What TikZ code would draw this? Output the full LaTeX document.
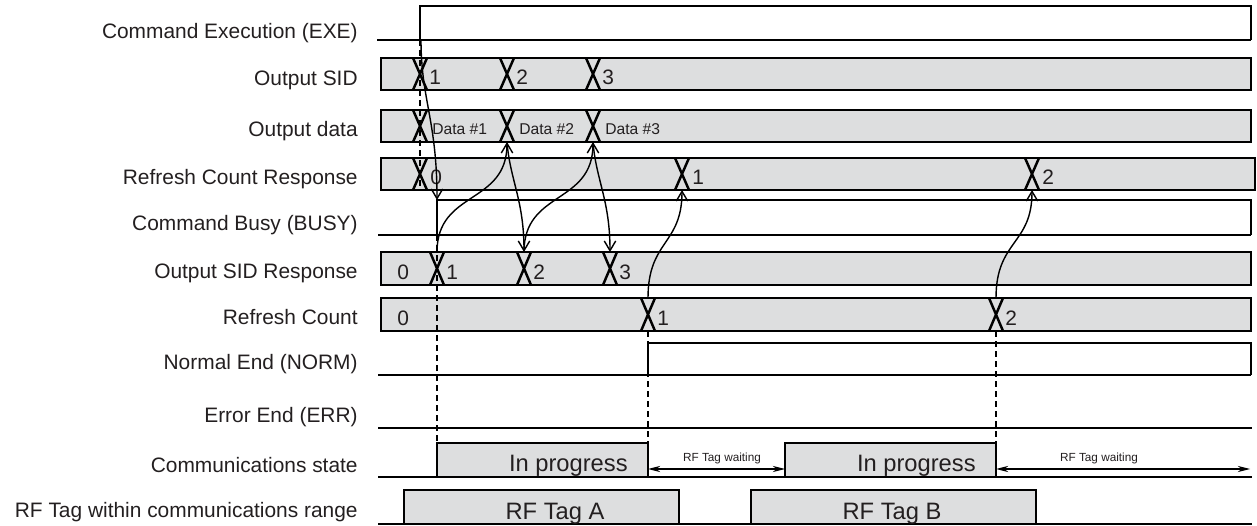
\documentclass[tikz,border=0pt]{standalone}
\usepackage{fontspec}
\setmainfont{Liberation Sans}
\usetikzlibrary{arrows.meta,positioning,calc,backgrounds}
\definecolor{cband}{RGB}{221,222,223}
\definecolor{cink}{RGB}{35,31,32}

\begin{document}
\begin{tikzpicture}[
  x=0.02cm,y=-0.02cm,
  font=\fontsize{11.9}{14}\selectfont,
  lab/.style={anchor=base east,inner sep=0pt,text=cink},
  val/.style={anchor=base west,inner sep=0pt,text=cink},
  dval/.style={val,font=\fontsize{8.9}{10}\selectfont},
  boxtxt/.style={inner sep=0pt,text=cink,font=\fontsize{13.5}{16}\selectfont},
  waittxt/.style={anchor=base,inner sep=0pt,text=cink,font=\fontsize{6.7}{8}\selectfont},
  lowline/.style={line width=1.6pt},
  rise/.style={line width=1.2pt},
  band/.style={fill=cband,draw=black,line width=0.9pt},
  xing/.style={line width=1.4pt},
  guide/.style={line width=1.1pt,dash pattern=on 3.4pt off 2.3pt},
  link/.style={line width=0.8pt,-{Straight Barb[length=5.5pt,width=6.5pt]}},
  gap/.style={line width=0.6pt,{Stealth[length=7pt,width=3.5pt]}-{Stealth[length=7pt,width=3.5pt]}}
]
\useasboundingbox (0,0) rectangle (1257,526);

% ---- signal names ----
\foreach \y/\t [count=\i] in {39/Command Execution (EXE),86/Output SID,137/Output data,
    185/Refresh Count Response,231/Command Busy (BUSY),279/Output SID Response,
    325/Refresh Count,370/Normal End (NORM),423/Error End (ERR),
    473/Communications state,517/RF Tag within communications range}
  {\node[lab] (lbl-\i) at (358,\y) {\t};}

% ---- value bands ----
\foreach \t/\b/\r in {58/90/1251,110/142/1251,158/190/1255,252/285/1251,298/331/1251}
  {\draw[band] (381,\t) rectangle (\r,\b);
   \draw[lowline] (381,\b) -- (\r,\b);}

% Output SID
\foreach \x/\v [count=\i] in {420/1,507/2,593/3} {
  \draw[xing] (\x-7,58) -- (\x+7,90) (\x-7,90) -- (\x+7,58);
  \node[val] (sid-\i) at (\x+9,85) {\v};}
% Output data
\foreach \x/\v [count=\i] in {420/1,507/2,593/3} {
  \draw[xing] (\x-7,110) -- (\x+7,142) (\x-7,142) -- (\x+7,110);
  \coordinate (dat-\i) at (\x,142);
  \node[dval] (dtx-\i) at (\x+12,135) {Data \#\v};}
% Refresh Count Response
\foreach \x/\v [count=\i] in {420/0,682/1,1032/2} {
  \draw[xing] (\x-7,158) -- (\x+7,190) (\x-7,190) -- (\x+7,158);
  \coordinate (rcr-\i) at (\x,190);
  \node[val] (rcv-\i) at (\x+10,185) {\v};}
% Output SID Response
\node[val] (srv-0) at (397,280) {0};
\foreach \x/\v [count=\i] in {437/1,524/2,610/3} {
  \draw[xing] (\x-7,252) -- (\x+7,285) (\x-7,285) -- (\x+7,252);
  \coordinate (srp-\i) at (\x,252);
  \node[val] (srv-\i) at (\x+9,280) {\v};}
% Refresh Count
\node[val] (rfv-0) at (397,326) {0};
\foreach \x/\v [count=\i] in {648/1,996/2} {
  \draw[xing] (\x-7,298) -- (\x+7,331) (\x-7,331) -- (\x+7,298);
  \coordinate (rfc-\i) at (\x,298);
  \node[val] (rfv-\i) at (\x+9,326) {\v};}

% ---- timing guides ----
\draw[guide] (420,40) -- (420,190);
\draw[guide] (437,235) -- (437,443);
\draw[guide] (648,331) -- (648,443);
\draw[guide] (996,331) -- (996,443);

% ---- bit signals ----
\draw[lowline] (377,40) -- (1251,40);
\draw[rise] (420,40) |- (1251,6) -- (1251,40);
\coordinate (exe) at (421,40);

\draw[lowline] (378,235) -- (1251,235);
\draw[rise] (437,235) |- (1251,200) -- (1251,235);
\coordinate (busy) at (437,200);

\draw[lowline] (378,375) -- (1251,375);
\draw[rise] (648,375) |- (1251,343) -- (1251,375);

\draw[lowline] (378,428) -- (1252,428);

% ---- communications state ----
\fill[cband] (437,443) rectangle (648,477);
\fill[cband] (785,443) rectangle (996,477);
\draw[lowline] (378,477) -- (1252,477);
\draw[rise] (437,477) |- (648,443) -- (648,477);
\draw[rise] (785,477) |- (996,443) -- (996,477);
\node[boxtxt,anchor=base east] (prog-1) at (628,472) {In progress};
\node[boxtxt,anchor=base east] (prog-2) at (976,472) {In progress};

\coordinate (wt1-l) at (648,469);
\coordinate (wt1-r) at (785,469);
\coordinate (wt2-l) at (996,469);
\coordinate (wt2-r) at (1250,469);
\draw[gap] (wt1-l) -- (wt1-r);
\draw[gap] (wt2-l) -- (wt2-r);
\node[waittxt] (wait-1) at (722,461) {RF Tag waiting};
\node[waittxt] (wait-2) at (1099,461) {RF Tag waiting};

% ---- RF tag in range ----
\fill[cband] (404,490) rectangle (679,524);
\fill[cband] (751,490) rectangle (1036,524);
\draw[lowline] (378,524) -- (1252,524);
\draw[rise] (404,524) |- (679,490) -- (679,524);
\draw[rise] (751,524) |- (1036,490) -- (1036,524);
\node[boxtxt,anchor=base] (tag-a) at (555,520) {RF Tag A};
\node[boxtxt,anchor=base] (tag-b) at (892,520) {RF Tag B};

% ---- handshake arrows ----
\draw[link] (exe) .. controls (421,100) and (437,120) .. (busy);
\draw[link] (srp-1) .. controls (437,190) and (507,205) .. (dat-2);
\draw[link] (dat-2) .. controls (510,180) and (524,200) .. (srp-2);
\draw[link] (srp-2) .. controls (524,190) and (593,205) .. (dat-3);
\draw[link] (dat-3) .. controls (596,180) and (610,200) .. (srp-3);
\draw[link] (rfc-1) .. controls (648,240) and (682,245) .. (rcr-2);
\draw[link] (rfc-2) .. controls (996,240) and (1032,245) .. (rcr-3);
\end{tikzpicture}
\end{document}
